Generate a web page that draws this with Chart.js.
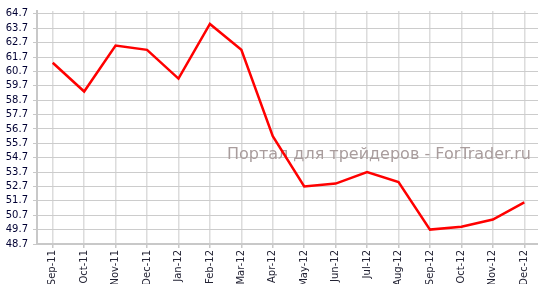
<!DOCTYPE html>
<html>
<head>
<meta charset="utf-8">
<script src="https://cdn.jsdelivr.net/npm/chart.js@4"></script>
<style>
  html, body { margin: 0; padding: 0; background: #fff; overflow: hidden; }
  #wrap { position: relative; width: 540px; height: 284px; }
</style>
</head>
<body>
<div id="wrap"><canvas id="rateChart"></canvas></div>
<script>
const months = ["Sep-11", "Oct-11", "Nov-11", "Dec-11", "Jan-12", "Feb-12", "Mar-12", "Apr-12",
  "May-12", "Jun-12", "Jul-12", "Aug-12", "Sep-12", "Oct-12", "Nov-12", "Dec-12"];
const values = [61.3, 59.3, 62.5, 62.2, 60.2, 64.0, 62.2, 56.2,
  52.7, 52.9, 53.7, 53.0, 49.7, 49.9, 50.4, 51.6];
const yTicks = [48.7, 49.7, 50.7, 51.7, 52.7, 53.7, 54.7, 55.7, 56.7,
  57.7, 58.7, 59.7, 60.7, 61.7, 62.7, 63.7, 64.7];
const watermark = "Портал для трейдеров - ForTrader.ru";

// watermark text under the line
const watermarkPlugin = {
  id: "watermark",
  beforeDatasetsDraw(chart) {
    const c = chart.ctx;
    const area = chart.chartArea;
    c.save();
    c.font = "16px 'DejaVu Sans'";
    c.fillStyle = "#a99d9d";
    c.textAlign = "right";
    c.textBaseline = "alphabetic";
    c.fillText(watermark, area.right - 9, 159);
    c.restore();
  }
};

const ctx = document.getElementById("rateChart").getContext("2d");

new Chart(ctx, {
  type: "line",
  data: {
    labels: months,
    datasets: [{
      data: values,
      borderColor: "#ff0000",
      borderWidth: 2.5,
      pointRadius: 0,
      fill: false,
      tension: 0
    }]
  },
  options: {
    responsive: true,
    maintainAspectRatio: false,
    animation: false,
    layout: { padding: { top: 5, left: 0, right: 0, bottom: 0 } },
    plugins: {
      legend: { display: false },
      tooltip: { enabled: false }
    },
    scales: {
      x: {
        offset: true,
        afterFit(scale) { scale.height = 40; },
        grid: {
          offset: false,
          color: "#dcdcdc",
          lineWidth: 1.5,
          tickLength: 4,
          tickColor: "#c8c8c8"
        },
        border: { color: "#c8c8c8", width: 2 },
        ticks: {
          autoSkip: false,
          minRotation: 90,
          maxRotation: 90,
          padding: 2,
          color: "#222233",
          font: { family: "DejaVu Sans", size: 10 }
        }
      },
      y: {
        min: 48.7,
        max: 64.9,
        afterFit(scale) { scale.width = 37; },
        afterBuildTicks(scale) {
          scale.ticks = yTicks.map(v => ({ value: v }));
        },
        grid: {
          color: "#cccccc",
          lineWidth: 1,
          tickLength: 4,
          tickColor: "#c8c8c8"
        },
        border: { color: "#c8c8c8", width: 2 },
        ticks: {
          autoSkip: false,
          padding: 5,
          color: "#000033",
          font: { family: "DejaVu Sans", size: 10 },
          callback: v => Number(v).toFixed(1)
        }
      }
    }
  },
  plugins: [watermarkPlugin]
});
</script>
</body>
</html>
